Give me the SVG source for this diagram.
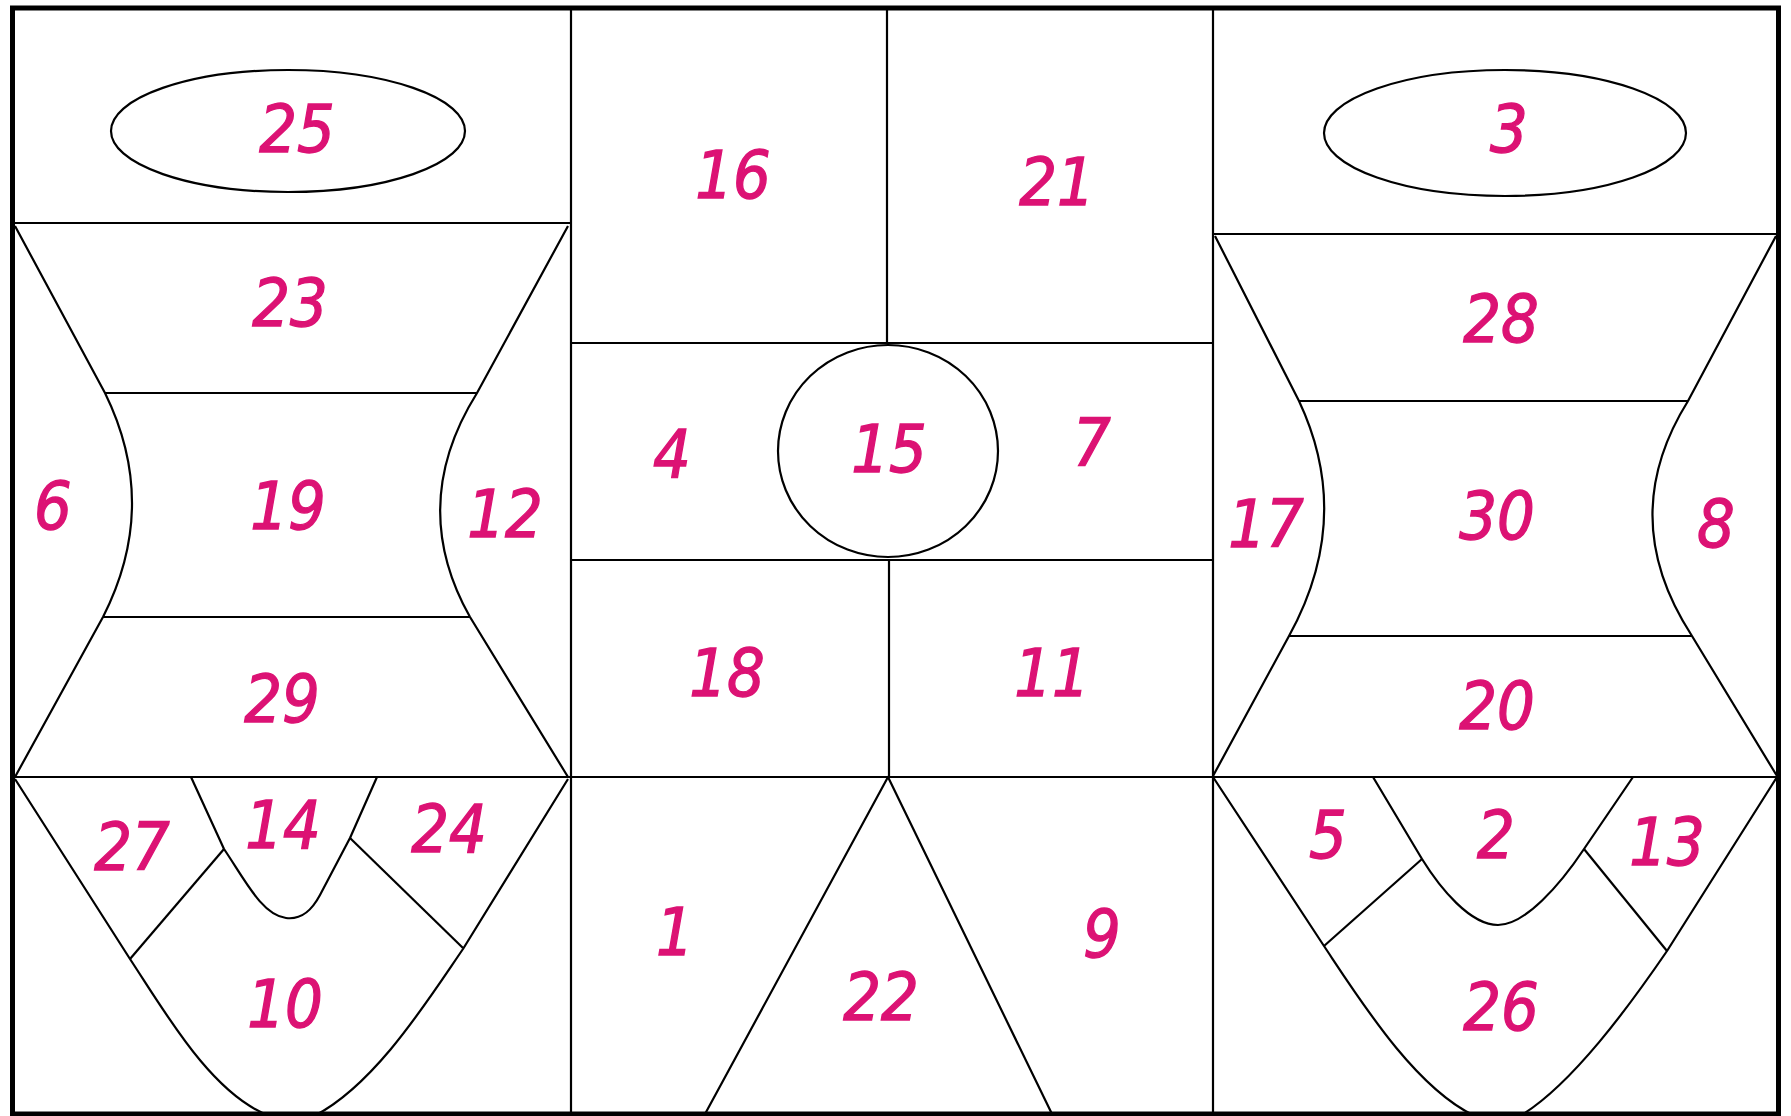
<svg xmlns="http://www.w3.org/2000/svg" width="1791" height="1116" viewBox="0 0 1791 1116">
<style>
.ln{fill:none;stroke:#000;stroke-width:2.2;stroke-linejoin:round}
.lb{font-family:'DejaVu Sans Condensed','DejaVu Sans',sans-serif;font-style:italic;font-size:66px;fill:#dc1274;stroke:#dc1274;stroke-width:1.3;text-anchor:middle}
</style>
<rect width="1791" height="1116" fill="#fff"/>
<g id="lines">
<rect x="12.5" y="8" width="1766" height="1106" fill="none" stroke="#000" stroke-width="5"/>
<line class="ln" x1="571" y1="8" x2="571" y2="1114"/>
<line class="ln" x1="1213" y1="8" x2="1213" y2="1114"/>
<line class="ln" x1="13" y1="777" x2="1778" y2="777"/>
<!-- left column -->
<line class="ln" x1="13" y1="223" x2="571" y2="223"/>
<ellipse class="ln" cx="288" cy="131" rx="177" ry="61"/>
<path class="ln" d="M15,226 L105,393 Q160,505 103,617 L15,777"/>
<path class="ln" d="M568,226 L477,393 Q407,505 470,617 L568,777"/>
<line class="ln" x1="105" y1="393" x2="477" y2="393"/>
<line class="ln" x1="103" y1="617" x2="470" y2="617"/>
<path class="ln" d="M15,779 L130,959 C165,1012 212,1095 270,1116"/>
<path class="ln" d="M568,779 L463,949 C428,1000 375,1085 314,1116"/>
<path class="ln" d="M191,777 L224,849 C245,880 262,915 286,918 C302,920 312,910 320,895 L350,838 L377,777"/>
<line class="ln" x1="224" y1="849" x2="130" y2="959"/>
<line class="ln" x1="350" y1="838" x2="463" y2="948"/>
<!-- middle column -->
<line class="ln" x1="887" y1="8" x2="887" y2="343"/>
<line class="ln" x1="571" y1="343" x2="1213" y2="343"/>
<ellipse class="ln" cx="888" cy="451" rx="110" ry="106"/>
<line class="ln" x1="571" y1="560" x2="1213" y2="560"/>
<line class="ln" x1="889" y1="560" x2="889" y2="777"/>
<path class="ln" d="M705,1114 L888,777 L1052,1114"/>
<!-- right column -->
<line class="ln" x1="1213" y1="234" x2="1778" y2="234"/>
<ellipse class="ln" cx="1505" cy="133" rx="181" ry="63"/>
<path class="ln" d="M1215,236 L1299,401 Q1354,518 1289,636 L1213,776"/>
<path class="ln" d="M1776,236 L1688,401 Q1615,518 1692,636 L1777,776"/>
<line class="ln" x1="1299" y1="401" x2="1688" y2="401"/>
<line class="ln" x1="1289" y1="636" x2="1692" y2="636"/>
<path class="ln" d="M1213,777 L1324,946 C1360,1000 1415,1088 1475,1116"/>
<path class="ln" d="M1777,777 L1667,951 C1630,1005 1572,1085 1520,1116"/>
<path class="ln" d="M1373,777 L1422,859 C1440,888 1470,925 1498,925 C1525,925 1560,885 1584,849 L1633,777"/>
<line class="ln" x1="1422" y1="859" x2="1324" y2="946"/>
<line class="ln" x1="1584" y1="849" x2="1667" y2="951"/>
</g>
<g id="n25"><text class="lb" x="297" y="152">25</text></g>
<g id="n23"><text class="lb" x="290" y="326">23</text></g>
<g id="n6"><text class="lb" x="53" y="529">6</text></g>
<g id="n19"><text class="lb" x="288" y="529">19</text></g>
<g id="n12"><text class="lb" x="505" y="537">12</text></g>
<g id="n29"><text class="lb" x="282" y="722">29</text></g>
<g id="n27"><text class="lb" x="132" y="870">27</text></g>
<g id="n14"><text class="lb" x="283" y="848">14</text></g>
<g id="n24"><text class="lb" x="449" y="852">24</text></g>
<g id="n10"><text class="lb" x="285" y="1027">10</text></g>
<g id="n16"><text class="lb" x="733" y="198">16</text></g>
<g id="n21"><text class="lb" x="1057" y="205">21</text></g>
<g id="n4"><text class="lb" x="672" y="477">4</text></g>
<g id="n15"><text class="lb" x="889" y="472">15</text></g>
<g id="n7"><text class="lb" x="1092" y="466">7</text></g>
<g id="n18"><text class="lb" x="727" y="696">18</text></g>
<g id="n11"><text class="lb" x="1052" y="696">11</text></g>
<g id="n1"><text class="lb" x="675" y="955">1</text></g>
<g id="n22"><text class="lb" x="881" y="1020">22</text></g>
<g id="n9"><text class="lb" x="1102" y="957">9</text></g>
<g id="n3"><text class="lb" x="1509" y="152">3</text></g>
<g id="n28"><text class="lb" x="1501" y="342">28</text></g>
<g id="n17"><text class="lb" x="1266" y="547">17</text></g>
<g id="n30"><text class="lb" x="1497" y="539">30</text></g>
<g id="n8"><text class="lb" x="1716" y="547">8</text></g>
<g id="n20"><text class="lb" x="1497" y="729">20</text></g>
<g id="n5"><text class="lb" x="1328" y="858">5</text></g>
<g id="n2"><text class="lb" x="1496" y="858">2</text></g>
<g id="n13"><text class="lb" x="1667" y="865">13</text></g>
<g id="n26"><text class="lb" x="1501" y="1030">26</text></g>
</svg>
